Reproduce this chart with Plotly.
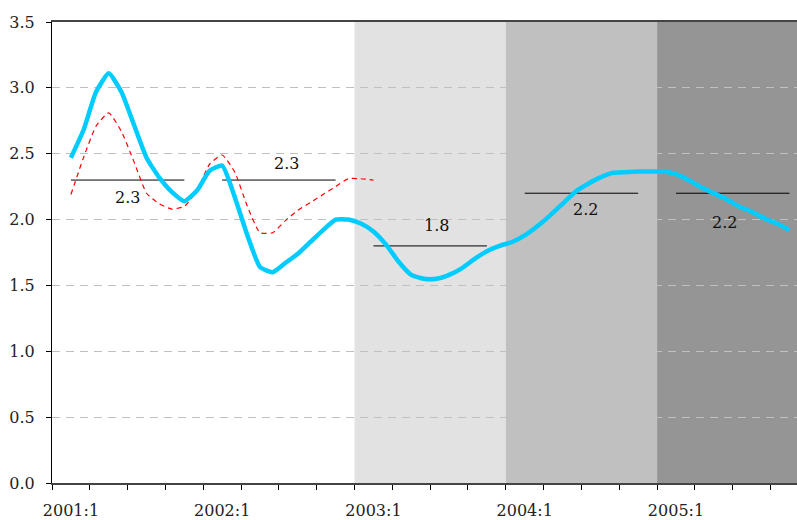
import plotly.graph_objects as go

# monthly series, first value is 2001:2
start_year, start_month = 2001, 2
inflation = [2.47, 2.68, 2.97, 3.11, 2.97, 2.72, 2.47, 2.32, 2.21, 2.14, 2.22,
             2.37, 2.41, 2.17, 1.88, 1.64, 1.60, 1.67, 1.74, 1.83, 1.92, 2.00,
             2.00, 1.97, 1.91, 1.81, 1.68, 1.58, 1.55, 1.55, 1.58, 1.63, 1.70,
             1.76, 1.80, 1.83, 1.88, 1.95, 2.03, 2.12, 2.21, 2.27, 2.32, 2.355,
             2.36, 2.365, 2.365, 2.365, 2.345, 2.30, 2.245, 2.20, 2.155, 2.10,
             2.06, 2.01, 1.97, 1.92]
forecast_old = [2.19, 2.47, 2.71, 2.81, 2.67, 2.44, 2.20, 2.12, 2.08, 2.10, 2.22,
                2.42, 2.49, 2.36, 2.10, 1.90, 1.90, 1.99, 2.07, 2.13, 2.19, 2.25,
                2.31, 2.31, 2.30]

years = [2001, 2002, 2003, 2004, 2005]
year_avg = [2.3, 2.3, 1.8, 2.2, 2.2]
tick_labels = [f"{y}:1" for y in years]

shade_years = [2003, 2004, 2005]
shade_colors = ["#e2e2e2", "#c0c0c0", "#959595"]

# label placement around each average line (pixels)
avg_label_dx = [0, 8, 6, 4, -8]
avg_label_dy = [-17, 17, 20, -16, -29]

SERIF = "DejaVu Serif"


def pos(year, month):
    # month centre on an axis where 0 = start of 2001
    return (year - 2001) * 12 + (month - 1) + 0.5


def series_x(n):
    out = []
    y, m = start_year, start_month
    for _ in range(n):
        out.append(pos(y, m))
        m += 1
        if m > 12:
            y, m = y + 1, 1
    return out


fig = go.Figure()

for i, y in enumerate(years):
    fig.add_trace(go.Scatter(x=[pos(y, 2), pos(y, 11)], y=[year_avg[i]] * 2,
                             mode="lines", line=dict(color="black", width=1),
                             showlegend=False, hoverinfo="skip"))
    fig.add_annotation(x=(pos(y, 2) + pos(y, 11)) / 2, y=year_avg[i],
                       text=f"{year_avg[i]:.1f}", showarrow=False,
                       xshift=avg_label_dx[i], yshift=avg_label_dy[i],
                       font=dict(family=SERIF, size=16, color="#111111"))

fig.add_trace(go.Scatter(x=series_x(len(forecast_old)), y=forecast_old, mode="lines",
                         line=dict(color="#ff0000", width=1.2, dash="5px,4px",
                                   shape="spline", smoothing=0.5),
                         showlegend=False))
fig.add_trace(go.Scatter(x=series_x(len(inflation)), y=inflation, mode="lines",
                         line=dict(color="#00ccff", width=4.5,
                                   shape="spline", smoothing=0.5),
                         showlegend=False))

for i, y in enumerate(shade_years):
    fig.add_shape(type="rect", xref="x", yref="paper",
                  x0=pos(y, 1) - 0.5, x1=pos(y + 1, 1) - 0.5 if i < len(shade_years) - 1 else 61,
                  y0=0, y1=1, fillcolor=shade_colors[i], line_width=0, layer="between")

fig.update_layout(
    width=797, height=520,
    margin=dict(l=52, r=0, t=22, b=37),
    plot_bgcolor="white", paper_bgcolor="white",
    font=dict(family=SERIF, size=16, color="#222222"),
    showlegend=False,
)
fig.update_xaxes(range=[0, 59.1], showgrid=False, zeroline=False,
                 tickvals=[pos(y, 2) for y in years], ticktext=tick_labels,
                 ticks="", ticklabelstandoff=12,
                 minor=dict(tickvals=list(range(0, 60, 3)), ticks="outside",
                            ticklen=5, tickcolor="black", showgrid=False),
                 showline=True, linecolor="#444444", linewidth=2, mirror=True)
fig.update_yaxes(range=[0, 3.5], dtick=0.5, tickformat=".1f",
                 showgrid=True, gridcolor="#c0c0c0", gridwidth=1, griddash="8px,6px",
                 zeroline=False, ticks="outside", ticklen=5, tickcolor="black",
                 ticklabelstandoff=8,
                 showline=True, linecolor="black", linewidth=1)

fig.write_html("out.html", config={"displayModeBar": False},
               post_script="document.body.style.margin='0';")
